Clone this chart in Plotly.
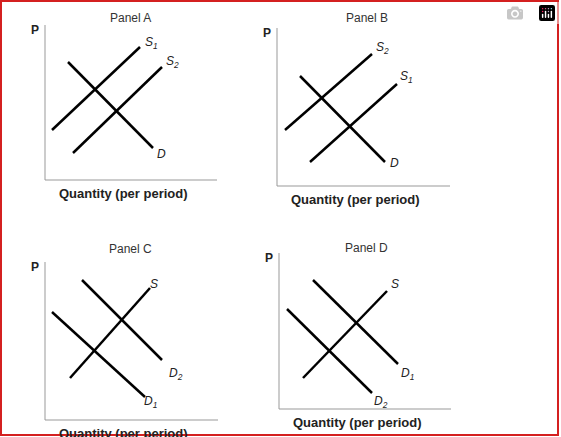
import plotly.graph_objects as go

# Page coordinates (pixels), y grows downward
panels = ["Panel A", "Panel B", "Panel C", "Panel D"]
title_pos = [(130, 18), (367, 18), (130, 249), (366, 248)]
axis_origin = [(45, 180), (277, 186), (45, 420), (279, 409)]
axis_top = [25, 28, 262, 253]
axis_right = [217, 450, 218, 451]

# curves: (label, x pair, y pair, label pos)
curves = [
    [("S<sub>1</sub>", [52, 140], [130, 47], (151, 43)),
     ("S<sub>2</sub>", [73, 162], [153, 67], (172, 62)),
     ("D", [68, 153], [62, 148], (161, 154))],
    [("S<sub>2</sub>", [285, 372], [130, 54], (382, 48)),
     ("S<sub>1</sub>", [310, 397], [162, 84], (406, 77)),
     ("D", [300, 385], [76, 162], (394, 163))],
    [("S", [70, 150], [378, 288], (154, 284)),
     ("D<sub>1</sub>", [52, 145], [312, 397], (150, 402)),
     ("D<sub>2</sub>", [82, 162], [280, 360], (176, 374))],
    [("S", [303, 387], [378, 291], (395, 284)),
     ("D<sub>1</sub>", [313, 398], [280, 364], (407, 374)),
     ("D<sub>2</sub>", [287, 372], [309, 393], (381, 402))],
]

fig = go.Figure()
font = "Liberation Sans, Arial, sans-serif"

for i, name in enumerate(panels):
    ox, oy = axis_origin[i]
    fig.add_trace(go.Scatter(x=[ox, ox, axis_right[i]], y=[axis_top[i], oy, oy], mode="lines",
                             line=dict(color="#999999", width=1), hoverinfo="skip"))
    for lab, xs, ys, (lx, ly) in curves[i]:
        fig.add_trace(go.Scatter(x=xs, y=ys, mode="lines", line=dict(color="black", width=2.5),
                                 hoverinfo="skip"))
        fig.add_annotation(x=lx, y=ly, text=f"<i>{lab}</i>", showarrow=False,
                           font=dict(size=12, color="#222", family=font))
    tx, ty = title_pos[i]
    fig.add_annotation(x=tx, y=ty, text=name, showarrow=False,
                       font=dict(size=12, color="#333", family=font))
    fig.add_annotation(x=ox - 10, y=axis_top[i] + 5, text="<b>P</b>", showarrow=False,
                       font=dict(size=12, color="#222", family=font))
    fig.add_annotation(x=(ox + axis_right[i]) / 2 - 8, y=oy + 13, text="<b>Quantity (per period)</b>",
                       showarrow=False, font=dict(size=13, color="#222", family=font))

fig.add_shape(type="rect", x0=1, y0=1, x1=558, y1=435, line=dict(color="#d42020", width=2))

fig.update_layout(width=561, height=437, margin=dict(l=0, r=0, t=0, b=0),
                  plot_bgcolor="white", paper_bgcolor="white", showlegend=False,
                  xaxis=dict(range=[0, 561], visible=False, fixedrange=True),
                  yaxis=dict(range=[437, 0], visible=False, fixedrange=True))

fig.write_html("out.html")

# drop the default page margin so the figure sits at the window's corner
with open("out.html") as f:
    html = f.read()
html = html.replace("<head>", "<head><style>body{margin:0;overflow:hidden}</style>", 1)
with open("out.html", "w") as f:
    f.write(html)
